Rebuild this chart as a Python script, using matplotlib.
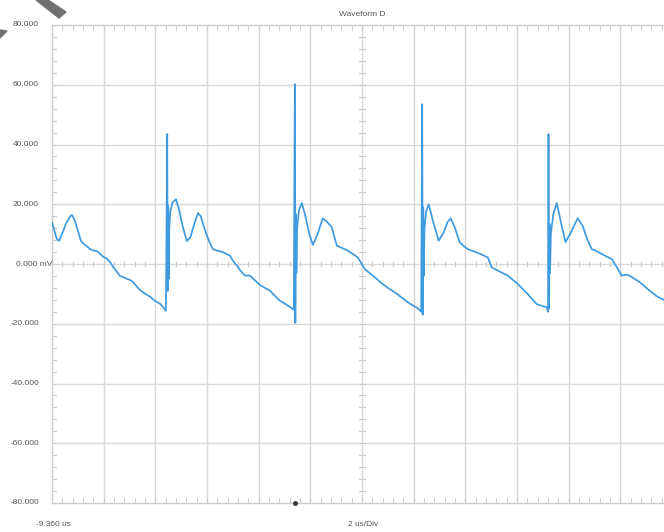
import matplotlib
matplotlib.use("Agg")
import matplotlib.pyplot as plt
from matplotlib.patches import Polygon

# ---- data (time in microseconds, voltage in mV) ----
t_us = [
    -9.36, -9.28, -9.18, -9.09, -8.95, -8.82, -8.65, -8.59, -8.50, -8.44, -8.30, -8.24,
    -8.10, -7.95, -7.89, -7.78, -7.62, -7.50, -7.40, -7.23, -7.10, -6.98, -6.85, -6.73,
    -6.60, -6.45, -6.35, -6.23, -6.10, -5.98, -5.84, -5.70, -5.55, -5.42, -5.30, -5.18,
    -5.05, -4.95,
    -4.90, -4.88, -4.86, -4.84, -4.82, -4.78, -4.70, -4.56, -4.45, -4.30, -4.14, -4.00,
    -3.85, -3.71, -3.60, -3.50, -3.36, -3.25, -3.13, -2.95, -2.78, -2.62, -2.47, -2.35,
    -2.20, -2.05, -1.89, -1.70, -1.50, -1.31, -1.12, -0.93, -0.75, -0.54, -0.38, -0.23,
    -0.10, 0.00,
    0.04, 0.06, 0.08, 0.10, 0.13, 0.20, 0.31, 0.45, 0.60, 0.74, 0.90, 1.05, 1.12, 1.30,
    1.47, 1.57, 1.67, 1.88, 2.09, 2.28, 2.48, 2.62, 2.75, 2.90, 3.06, 3.25, 3.44, 3.70,
    3.99, 4.20, 4.41, 4.60, 4.80, 4.93,
    4.97, 4.99, 5.01, 5.03, 5.06, 5.12, 5.22, 5.40, 5.61, 5.80, 5.95, 6.07, 6.23, 6.42,
    6.58, 6.73, 6.95, 7.12, 7.32, 7.51, 7.66, 7.89, 8.08, 8.28, 8.48, 8.67, 8.85, 9.05,
    9.22, 9.40, 9.60, 9.79, 9.84,
    9.86, 9.88, 9.90, 9.92, 9.95, 10.05, 10.18, 10.35, 10.52, 10.75, 10.99, 11.18, 11.35,
    11.53, 11.70, 11.84, 12.05, 12.30, 12.50, 12.69, 12.85, 13.00, 13.20, 13.39, 13.58,
    13.77, 14.05, 14.32, 14.62,
]
v_mV = [
    14.0, 11.5, 8.5, 7.7, 10.5, 13.5, 16.0, 16.4, 15.0, 13.5, 9.5, 7.7,
    6.5, 5.5, 5.0, 4.6, 4.3, 3.4, 2.6, 1.7, 0.5, -1.2, -2.6, -4.0,
    -4.4, -5.0, -5.3, -6.0, -7.3, -8.5, -9.4, -10.3, -11.0, -12.1, -12.7, -13.3,
    -14.5, -15.7,
    43.5, -9.0, 19.4, -5.0, 12.0, 17.5, 20.5, 21.7, 18.5, 12.5, 7.7, 9.0,
    13.5, 17.0, 16.0, 13.0, 9.5, 7.0, 5.0, 4.4, 4.1, 3.4, 2.8, 1.0,
    -0.6, -2.4, -3.9, -3.9, -5.5, -7.0, -8.0, -8.9, -10.5, -12.3, -13.1, -13.9,
    -14.7, -15.3,
    60.2, -19.7, 16.7, -3.0, 12.0, 18.0, 20.4, 16.0, 10.0, 6.4, 9.5, 13.5, 15.3, 14.0,
    12.3, 9.0, 6.1, 5.3, 4.5, 3.4, 2.2, 0.2, -1.7, -2.8, -3.9, -5.3, -6.7, -8.3,
    -10.0, -11.4, -12.8, -13.8, -14.8, -16.0,
    53.5, -17.0, 19.0, -4.0, 12.0, 17.5, 20.0, 14.0, 7.8, 10.5, 14.0, 15.3, 12.3, 7.3,
    6.0, 5.0, 4.3, 3.7, 3.0, 2.2, -1.1, -2.2, -3.0, -3.9, -5.3, -6.7, -8.3, -10.0,
    -11.7, -13.4, -14.0, -14.5, -16.0,
    43.5, -15.0, 13.4, -3.0, 10.0, 17.0, 20.4, 13.5, 7.3, 11.0, 15.3, 12.8, 8.5,
    5.0, 4.4, 3.7, 2.8, 1.7, -1.0, -3.9, -3.6, -3.9, -5.0, -6.1, -7.5,
    -8.9, -10.8, -12.0, -13.0,
]
y_ticks = [80, 60, 40, 20, 0, -20, -40, -60, -80]
y_labels = ["80.000", "60.000", "40.000", "20.000", "0.000", "-20.000", "-40.000", "-60.000", "-80.000"]
t_start = -9.36
us_per_div = 2.0
n_div = 12
title = "Waveform D"
start_label = "-9.360 us"
scale_label = "2 us/Div"
trigger_t = 0.04

# ---- figure ----
W, H = 664, 532
fig = plt.figure(figsize=(W / 100, H / 100), dpi=100)
plt.rcParams['font.family'] = ['Liberation Sans', 'DejaVu Sans']

def fx(px):
    return px / W

def fy(py):
    return 1 - py / H

left_px, right_px, top_px, bot_px = 52, 672, 25, 503
ax = fig.add_axes([fx(left_px), fy(bot_px), fx(right_px) - fx(left_px), fy(top_px) - fy(bot_px)])
t_end = t_start + n_div * us_per_div
ax.set_xlim(t_start, t_end)
ax.set_ylim(-80, 80)

grid_c = "#d9d9d9"
tick_c = "#cccccc"
for i in range(1, n_div):
    ax.axvline(t_start + i * us_per_div, color=grid_c, lw=1.0, zorder=0)
for yv in y_ticks[1:-1]:
    ax.axhline(yv, color=grid_c, lw=1.0, zorder=0)
for s in ax.spines.values():
    s.set_color("#cccccc")
    s.set_linewidth(1.0)
ax.set_xticks([])
ax.set_yticks([])

# minor ticks: along edges and center cross
xc = t_start + n_div / 2 * us_per_div
minor_x = [t_start + k * us_per_div / 5 for k in range(n_div * 5 + 1)]
minor_y = [-80 + k * 4 for k in range(41)]
edge_ty = 1.6   # mV, tick length at top/bottom edges
cross_ty = 0.8  # mV, half-length on centre horizontal
edge_tx = 0.15  # us, tick length at left edge
cross_tx = 0.12  # us, half-length on centre vertical
for mx in minor_x:
    ax.plot([mx, mx], [80, 80 - edge_ty], color=tick_c, lw=0.8, zorder=1)
    ax.plot([mx, mx], [-80, -80 + edge_ty], color=tick_c, lw=0.8, zorder=1)
    ax.plot([mx, mx], [-cross_ty, cross_ty], color=tick_c, lw=0.8, zorder=1)
for my in minor_y:
    ax.plot([t_start, t_start + edge_tx], [my, my], color=tick_c, lw=0.8, zorder=1)
    ax.plot([xc - cross_tx, xc + cross_tx], [my, my], color=tick_c, lw=0.8, zorder=1)

ax.plot(t_us, v_mV, color="#3f9be0", lw=1.25, zorder=3, solid_joinstyle="round")
ax.plot([trigger_t], [-80], marker="o", ms=2.5, color="#333333", clip_on=False, zorder=4)

# labels
lab_c = "#555555"
for yv, lab in zip(y_ticks, y_labels):
    py = top_px + (80 - yv) / 160 * (bot_px - top_px)
    if yv == 0:
        fig.text(fx(52), fy(py), lab + " mV", ha="right", va="center", fontsize=6, color=lab_c)
    else:
        fig.text(fx(39), fy(py), lab, ha="right", va="center", fontsize=6, color=lab_c)
fig.text(fx(362), fy(15), title, ha="center", va="center", fontsize=6, color=lab_c)
fig.text(fx(36), fy(524), start_label, ha="left", va="center", fontsize=6, color=lab_c)
fig.text(fx(348), fy(524), scale_label, ha="left", va="center", fontsize=6, color=lab_c)

# corner ribbon artifacts
rib = Polygon([[fx(36), fy(0)], [fx(48), fy(0)], [fx(66), fy(12)], [fx(59), fy(18)]],
              closed=True, transform=fig.transFigure, color="#707070", zorder=10)
tri = Polygon([[fx(0), fy(30)], [fx(7), fy(31)], [fx(0), fy(38)]],
              closed=True, transform=fig.transFigure, color="#707070", zorder=10)
fig.patches.extend([rib, tri])

fig.savefig("out.png", dpi=100)
